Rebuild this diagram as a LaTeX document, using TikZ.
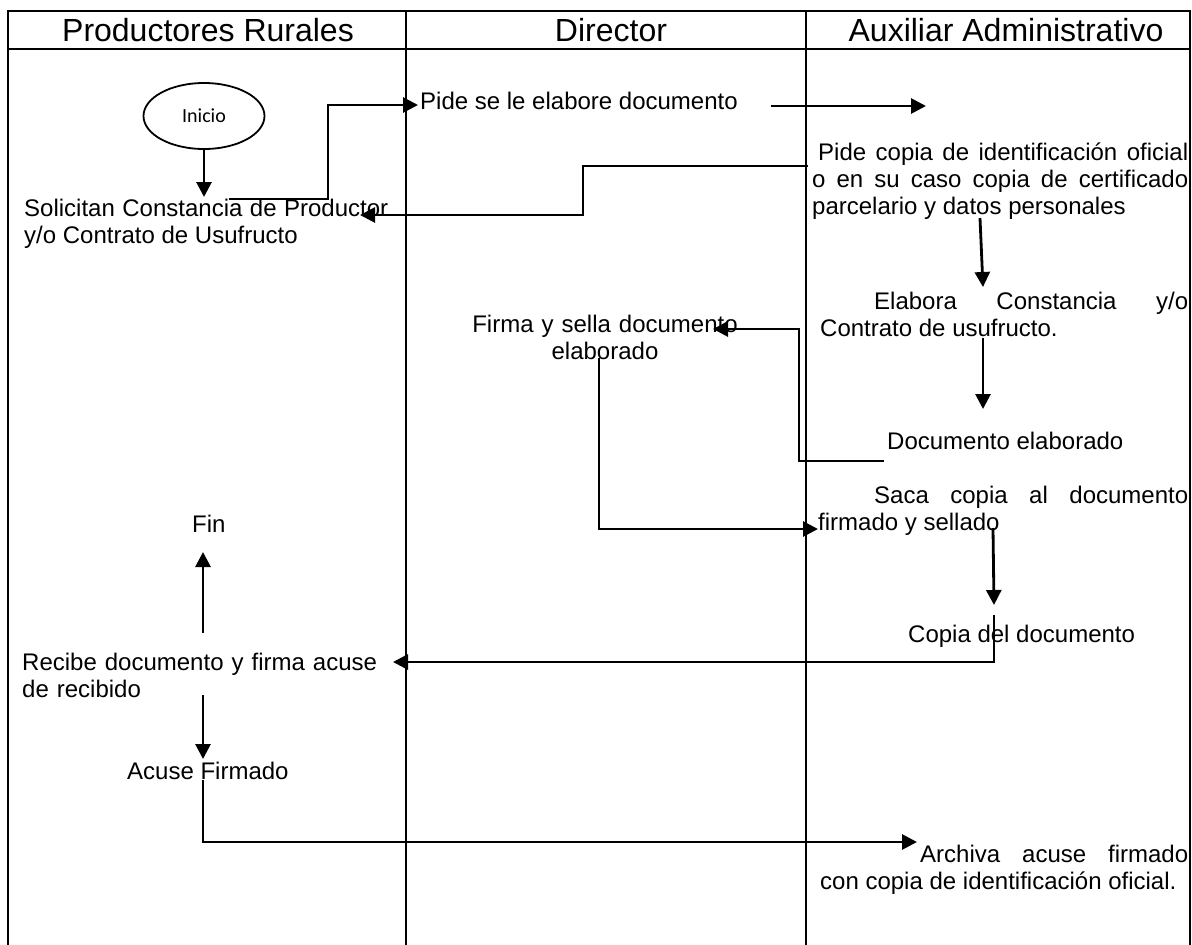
\documentclass[tikz,border=0pt]{standalone}
\usepackage{fontspec}
\setmainfont{Liberation Sans}
\newfontfamily\calibrifont{Carlito}
\usetikzlibrary{arrows.meta,shapes.geometric}
\begin{document}
\begin{tikzpicture}[x=1pt,y=-1pt,
  frame/.style={line width=2.2pt},
  conn/.style={line width=2.8pt,-{Triangle[length=15pt,width=15pt]}},
  hdr/.style={font=\fontsize{32}{36}\selectfont, anchor=base, inner sep=0pt},
  txt/.style={font=\fontsize{24}{27}\selectfont, anchor=base west, inner sep=0pt, align=left},
  para/.style={txt, align=justify},
  startnode/.style={draw, ellipse, line width=1.8pt, minimum width=121pt, minimum height=66pt, inner sep=0pt, font=\calibrifont\fontsize{20}{24}\selectfont}
]
\fill[white] (0,0) rectangle (1192,945);
\useasboundingbox (0,0) rectangle (1192,945);
% frame of the swimlanes
\draw[frame, line join=miter] (8,945) -- (8,11) -- (1190,11) -- (1190,945);
\draw[frame] (8,49) -- (1190,49);
\draw[frame] (406,11) -- (406,945);
\draw[frame] (806,11) -- (806,945);
% headers
\node[hdr] (h1) at (208,41) {Productores Rurales};
\node[hdr] (h2) at (611,41) {Director};
\node[hdr] (h3) at (1006,41) {Auxiliar Administrativo};
% nodes
\node[startnode] (ini) at (204,116) {Inicio};
\node[para, text width=364pt] (sol) at (24,216) {Solicitan Constancia de Productor\linebreak y/o Contrato de Usufructo};
\node[txt] (pide) at (420,109) {Pide se le elabore documento};
\node[para, text width=376pt] (pcopia) at (812,160) {\hspace*{6pt}Pide copia de identificación oficial\linebreak o en su caso copia de certificado\linebreak parcelario y datos personales};
\node[para, text width=368pt] (elab) at (820,309) {\hspace*{54pt}Elabora Constancia y/o\linebreak Contrato de usufructo.};
\node[txt, anchor=base, text width=270pt, align=center] (firma) at (605,332) {Firma y sella documento\\elaborado};
\node[txt] (docel) at (887,449) {Documento elaborado};
\node[para, text width=370pt] (saca) at (818,503) {\hspace*{56pt}Saca copia al documento\linebreak firmado y sellado};
\node[txt] (copia) at (908,642) {Copia del documento};
\node[txt, text width=380pt] (recibe) at (22,670) {Recibe documento y firma acuse\\de recibido};
\node[txt] (fin) at (192,532) {Fin};
\node[txt] (acuse) at (127,779) {Acuse Firmado};
\node[para, text width=368pt] (arch) at (820,862) {\hspace*{100pt}Archiva acuse firmado\linebreak con copia de identificación oficial.};
% connector coordinates
\coordinate (c1e) at (204,197);
\coordinate (c2s) at (229,199);
\coordinate (c2a) at (328,199);
\coordinate (c2b) at (328,105);
\coordinate (c2e) at (418,105);
\coordinate (c3s) at (771,106);
\coordinate (c3e) at (926,106);
\coordinate (c4s) at (808,166);
\coordinate (c4a) at (583,166);
\coordinate (c4b) at (583,215);
\coordinate (c4e) at (360,215);
\coordinate (c5s) at (980,218);
\coordinate (c5e) at (983,287);
\coordinate (c6s) at (983,338);
\coordinate (c6e) at (983,409);
\coordinate (c7s) at (884,461);
\coordinate (c7a) at (799,461);
\coordinate (c7b) at (799,329);
\coordinate (c7e) at (713,329);
\coordinate (c8s) at (599,358);
\coordinate (c8a) at (599,529);
\coordinate (c8e) at (818,529);
\coordinate (c9s) at (993,528);
\coordinate (c9e) at (994,605);
\coordinate (c10s) at (994,615);
\coordinate (c10a) at (994,662);
\coordinate (c10e) at (393,662);
\coordinate (c11s) at (203,633);
\coordinate (c11e) at (203,552);
\coordinate (c12s) at (203,695);
\coordinate (c12e) at (203,759);
\coordinate (c13s) at (203,780);
\coordinate (c13a) at (203,842);
\coordinate (c13e) at (917,842);
% connectors
\draw[conn] (ini.south) -- (c1e);
\draw[conn] (c2s) -- (c2a) -- (c2b) -- (c2e);
\draw[conn] (c3s) -- (c3e);
\draw[conn] (c4s) -- (c4a) -- (c4b) -- (c4e);
\draw[conn] (c5s) -- (c5e);
\draw[conn] (c6s) -- (c6e);
\draw[conn] (c7s) -- (c7a) -- (c7b) -- (c7e);
\draw[conn] (c8s) -- (c8a) -- (c8e);
\draw[conn] (c9s) -- (c9e);
\draw[conn] (c10s) -- (c10a) -- (c10e);
\draw[conn] (c11s) -- (c11e);
\draw[conn] (c12s) -- (c12e);
\draw[conn] (c13s) -- (c13a) -- (c13e);
\end{tikzpicture}
\end{document}
